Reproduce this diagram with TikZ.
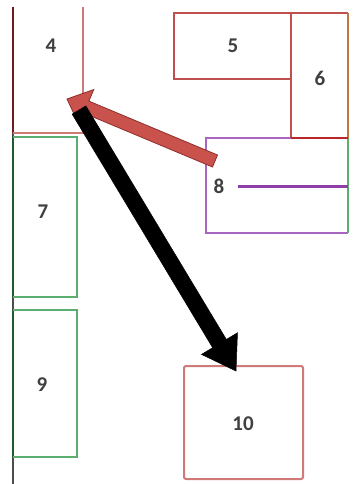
\documentclass[tikz,border=0pt]{standalone}
\usepackage{fontspec}
\setmainfont{Carlito}
\usetikzlibrary{calc}

\definecolor{roomred}{HTML}{C0504D}
\definecolor{lightred}{HTML}{D07A78}
\definecolor{deepred}{HTML}{B8262A}
\definecolor{rust}{HTML}{C0763D}
\definecolor{roomgreen}{HTML}{5AAE70}
\definecolor{darkgreen}{HTML}{1F5A2E}
\definecolor{maroon}{HTML}{6E1C1C}
\definecolor{roompurple}{HTML}{A866C0}
\definecolor{deeppurple}{HTML}{8E3FA8}
\definecolor{labelgray}{HTML}{404040}
\definecolor{arrowred}{HTML}{C9534C}
\definecolor{arrowedge}{HTML}{8E2E2A}

% fat block arrow: tail, tip, half shaft width, head length, head half width, style
\newcommand\fatarrow[6]{%
  \coordinate (fa-base) at ($(#2)!#4!(#1)$);
  \filldraw[#6]
    ($(#1)!#3!90:(#2)$) -- ($(fa-base)!#3!90:(#2)$) -- ($(fa-base)!#5!90:(#2)$)
    -- (#2)
    -- ($(fa-base)!#5!-90:(#2)$) -- ($(fa-base)!#3!-90:(#2)$) -- ($(#1)!#3!-90:(#2)$)
    -- cycle;
}

\begin{document}
\begin{tikzpicture}[x=1pt,y=-1pt,
  room/.style={inner sep=0pt, outer sep=0pt},
  num/.style={inner sep=0pt, text=labelgray, font=\fontsize{21}{21}\selectfont\bfseries},
  edge/.style={line width=2pt}]
\useasboundingbox (0,0) rectangle (354,484);
\fill[white] (0,0) rectangle (354,484);

% rooms (outline nodes)
\node[room, minimum width=70pt,  minimum height=126pt] (b4)  at (48,70) {};
\node[room, minimum width=117pt, minimum height=66pt]  (b5)  at (232.5,46) {};
\node[room, minimum width=57pt,  minimum height=125pt] (b6)  at (319.5,75.5) {};
\node[room, minimum width=64pt,  minimum height=160pt] (b7)  at (45,217) {};
\node[room, minimum width=142pt, minimum height=95pt]  (b8)  at (277,185.5) {};
\node[room, minimum width=64pt,  minimum height=147pt] (b9)  at (45,383.5) {};
\node[room, minimum width=119pt, minimum height=113pt] (b10) at (243.5,422.5) {};

% main wall on the left
\coordinate (w0) at (13,484);
\draw[line width=2.5pt, gray!60!black] (b4.north west) -- (w0);
\draw[line width=2.5pt, maroon] (b4.north west) -- (b4.south west);
\draw[line width=2.5pt, darkgreen] (b7.north west) -- (b7.south west);
\draw[line width=2.5pt, darkgreen] (b9.north west) -- (b9.south west);

% room 4
\draw[edge, lightred] (b4.south west) -- (b4.south east) -- (b4.north east);
% room 5
\draw[edge, roomred] (b5.north east) -- (b5.north west) -- (b5.south west) -- (b5.south east);
% room 8
\draw[edge, roompurple] (b6.south west) -- (b8.north west) -- (b8.south west) -- (b8.south east);
\draw[edge, roomgreen] (b6.south east) -- (b8.south east);
% room 6
\draw[edge, roomred] (b6.south west) -- (b6.north west) -- (b6.north east);
\draw[edge, rust] (b6.north east) -- (b6.south east);
\draw[edge, deepred] (b6.south west) -- (b6.south east);
% rooms 7 and 9
\draw[edge, roomgreen] (b7.north west) -- (b7.north east) -- (b7.south east) -- (b7.south west);
\draw[edge, roomgreen] (b9.north west) -- (b9.north east) -- (b9.south east) -- (b9.south west);
% room 10
\draw[edge, lightred, rounded corners=2pt] (b10.north west) rectangle (b10.south east);

% labels
\node[num] (l4)  at (51,46)    {4};
\node[num] (l5)  at (233,46)   {5};
\node[num] (l6)  at (320,78)   {6};
\node[num] (l7)  at (43,212)   {7};
\node[num] (l8)  at (219,186)  {8};
\node[num] (l9)  at (42,385)   {9};
\node[num] (l10) at (243,424)  {10};

% partition line inside room 8
\coordinate (p0) at (238,186);
\draw[line width=3pt, deeppurple] (p0) -- (p0 -| b8.east);

% arrows
\coordinate (r0) at (215,161);
\coordinate (r1) at (67,99);
\fatarrow{r0}{r1}{6.5pt}{21pt}{19pt}{fill=arrowred, draw=arrowedge, line width=0.8pt}
\coordinate (k0) at (79,110);
\coordinate (k1) at (236,371);
\fatarrow{k0}{k1}{8pt}{32pt}{21pt}{fill=black, draw=black, line width=0.5pt}
\end{tikzpicture}
\end{document}
